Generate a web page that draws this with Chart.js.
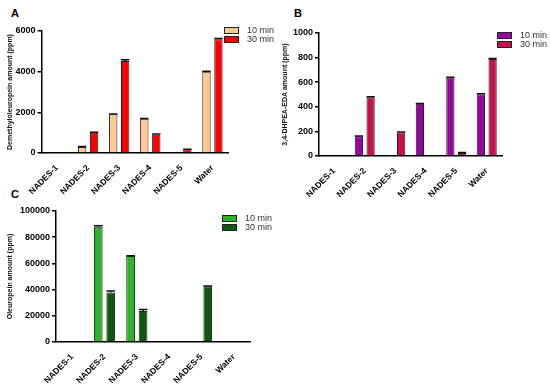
<!DOCTYPE html>
<html lang="en">
<head>
<meta charset="UTF-8">
<title>NADES extraction</title>
<script src="https://cdn.jsdelivr.net/npm/chart.js@4.4.0/dist/chart.umd.min.js"></script>
<style>
body { margin:0; width:550px; height:389px; position:relative; background:#fff; overflow:hidden;
       font-family:"Liberation Sans", Arial, sans-serif; }
canvas { position:absolute; }
.letter { position:absolute; font-weight:bold; font-size:11px; color:#000; }
.legend { position:absolute; font-size:9px; color:#333; }
.legend .row { height:9px; line-height:9px; white-space:nowrap; }
.legend .box { display:inline-block; width:13px; height:5px; border:1px solid #222; margin-right:8px; vertical-align:middle; }
</style>
</head>
<body>
<div class="letter" style="left:11px;top:7px">A</div>
<div class="letter" style="left:294px;top:7px">B</div>
<div class="letter" style="left:11px;top:188px">C</div>

<canvas id="chart-a" width="275" height="195" style="left:0;top:0"></canvas>
<canvas id="chart-b" width="275" height="205" style="left:275px;top:0"></canvas>
<canvas id="chart-c" width="275" height="194" style="left:0;top:195px"></canvas>

<script>
var categories = ["NADES-1", "NADES-2", "NADES-3", "NADES-4", "NADES-5", "Water"];
var seriesLabels = ["10 min", "30 min"];

// A - demethyloleuropein
var demethyl10 = [0, 300, 1900, 1680, 0, 4000];
var demethyl30 = [0, 1000, 4520, 900, 170, 5600];
var demethyl10Err = [0, 20, 20, 20, 0, 20];
var demethyl30Err = [0, 20, 70, 30, 15, 30];
var demethylTicks = [0, 2000, 4000, 6000];

// B - 3,4-DHPEA-EDA
var dhpea10 = [0, 160, 0, 424, 638, 503];
var dhpea30 = [0, 478, 192, 0, 24, 788];
var dhpea10Err = [0, 3, 0, 3, 3, 3];
var dhpea30Err = [0, 4, 4, 0, 4, 5];
var dhpeaTicks = [0, 200, 400, 600, 800, 1000];

// C - oleuropein
var oleu10 = [0, 88000, 65600, 0, 0, 0];
var oleu30 = [0, 37800, 23600, 0, 42500, 0];
var oleu10Err = [0, 800, 300, 0, 0, 0];
var oleu30Err = [0, 1200, 1200, 0, 300, 0];
var oleuTicks = [0, 20000, 40000, 60000, 80000, 100000];

var fontFamily = '"Liberation Sans", Arial, sans-serif';

var errorBars = {
  id: 'errorBars',
  afterDatasetsDraw: function(chart) {
    var ctx = chart.ctx, y = chart.scales.y;
    chart.data.datasets.forEach(function(ds, di) {
      var meta = chart.getDatasetMeta(di);
      meta.data.forEach(function(bar, i) {
        var v = ds.data[i], e = ds.errors[i];
        if (!v || !e) return;
        var top = y.getPixelForValue(v + e);
        var half = bar.width / 2;
        ctx.save();
        ctx.strokeStyle = '#111';
        ctx.lineWidth = 1.5;
        ctx.beginPath();
        ctx.moveTo(bar.x, bar.y);
        ctx.lineTo(bar.x, top);
        ctx.moveTo(bar.x - half, top);
        ctx.lineTo(bar.x + half, top);
        ctx.stroke();
        ctx.restore();
      });
    });
  }
};

function makeLegend(left, top, colors) {
  var div = document.createElement('div');
  div.className = 'legend';
  div.style.left = left + 'px';
  div.style.top = top + 'px';
  seriesLabels.forEach(function(lab, i) {
    var row = document.createElement('div');
    row.className = 'row';
    var box = document.createElement('span');
    box.className = 'box';
    box.style.background = colors[i];
    row.appendChild(box);
    row.appendChild(document.createTextNode(lab));
    div.appendChild(row);
  });
  document.body.appendChild(div);
}

function makePanel(id, d10, d30, e10, e30, colors, yMax, ticks, yTitle, box) {
  var ctx = document.getElementById(id).getContext('2d');
  return new Chart(ctx, {
    type: 'bar',
    data: {
      labels: categories,
      datasets: [
        { label: seriesLabels[0], data: d10, errors: e10, backgroundColor: colors[0],
          borderColor: '#222', borderWidth: 1, categoryPercentage: 0.77, barPercentage: 0.7 },
        { label: seriesLabels[1], data: d30, errors: e30, backgroundColor: colors[1],
          borderColor: '#222', borderWidth: 1, categoryPercentage: 0.77, barPercentage: 0.7 }
      ]
    },
    options: {
      responsive: false,
      animation: false,
      layout: { padding: { left: 6, right: box.padRight, top: box.padTop, bottom: 0 } },
      plugins: { legend: { display: false }, tooltip: { enabled: false } },
      scales: {
        x: {
          grid: { display: false },
          border: { color: '#000', width: 1.5 },
          ticks: { color: '#000', font: { family: fontFamily, size: 8.5, weight: 'bold' },
                   minRotation: 45, maxRotation: 45, padding: 2, autoSkip: false },
          afterFit: function(s) { s.height = box.xHeight; }
        },
        y: {
          min: 0, max: yMax,
          grid: { drawOnChartArea: false, drawTicks: true, tickLength: 4, color: '#000', lineWidth: 1.5 },
          border: { color: '#000', width: 1.5 },
          ticks: { color: '#000', font: { family: fontFamily, size: 9, weight: 'bold' }, padding: 2,
                   callback: function(v) { return String(v); } },
          afterBuildTicks: function(s) { s.ticks = ticks.map(function(v) { return { value: v }; }); },
          title: { display: true, text: yTitle, color: '#111', padding: 0,
                   font: { family: fontFamily, size: 7, weight: 'bold' } },
          afterFit: function(s) { s.width = box.yWidth; }
        }
      }
    },
    plugins: [errorBars]
  });
}

makePanel('chart-a', demethyl10, demethyl30, demethyl10Err, demethyl30Err, ['#FFC98F', '#FF0000'],
  6000, demethylTicks, 'Demethyloleuropein amount (ppm)',
  { yWidth: 35.5, xHeight: 42, padRight: 47, padTop: 31 });

makePanel('chart-b', dhpea10, dhpea30, dhpea10Err, dhpea30Err, ['#95069F', '#C8104A'],
  1000, dhpeaTicks, '3,4-DHPEA-EDA amount (ppm)',
  { yWidth: 38, xHeight: 49, padRight: 48, padTop: 33 });

makePanel('chart-c', oleu10, oleu30, oleu10Err, oleu30Err, ['#2DB52A', '#0C5A10'],
  100000, oleuTicks, 'Oleuropein amount (ppm)',
  { yWidth: 50, xHeight: 47, padRight: 25, padTop: 16 });

makeLegend(224, 26, ['#FFC98F', '#FF0000']);
makeLegend(497, 31, ['#95069F', '#C8104A']);
makeLegend(222, 214, ['#2DB52A', '#0C5A10']);
</script>
</body>
</html>
